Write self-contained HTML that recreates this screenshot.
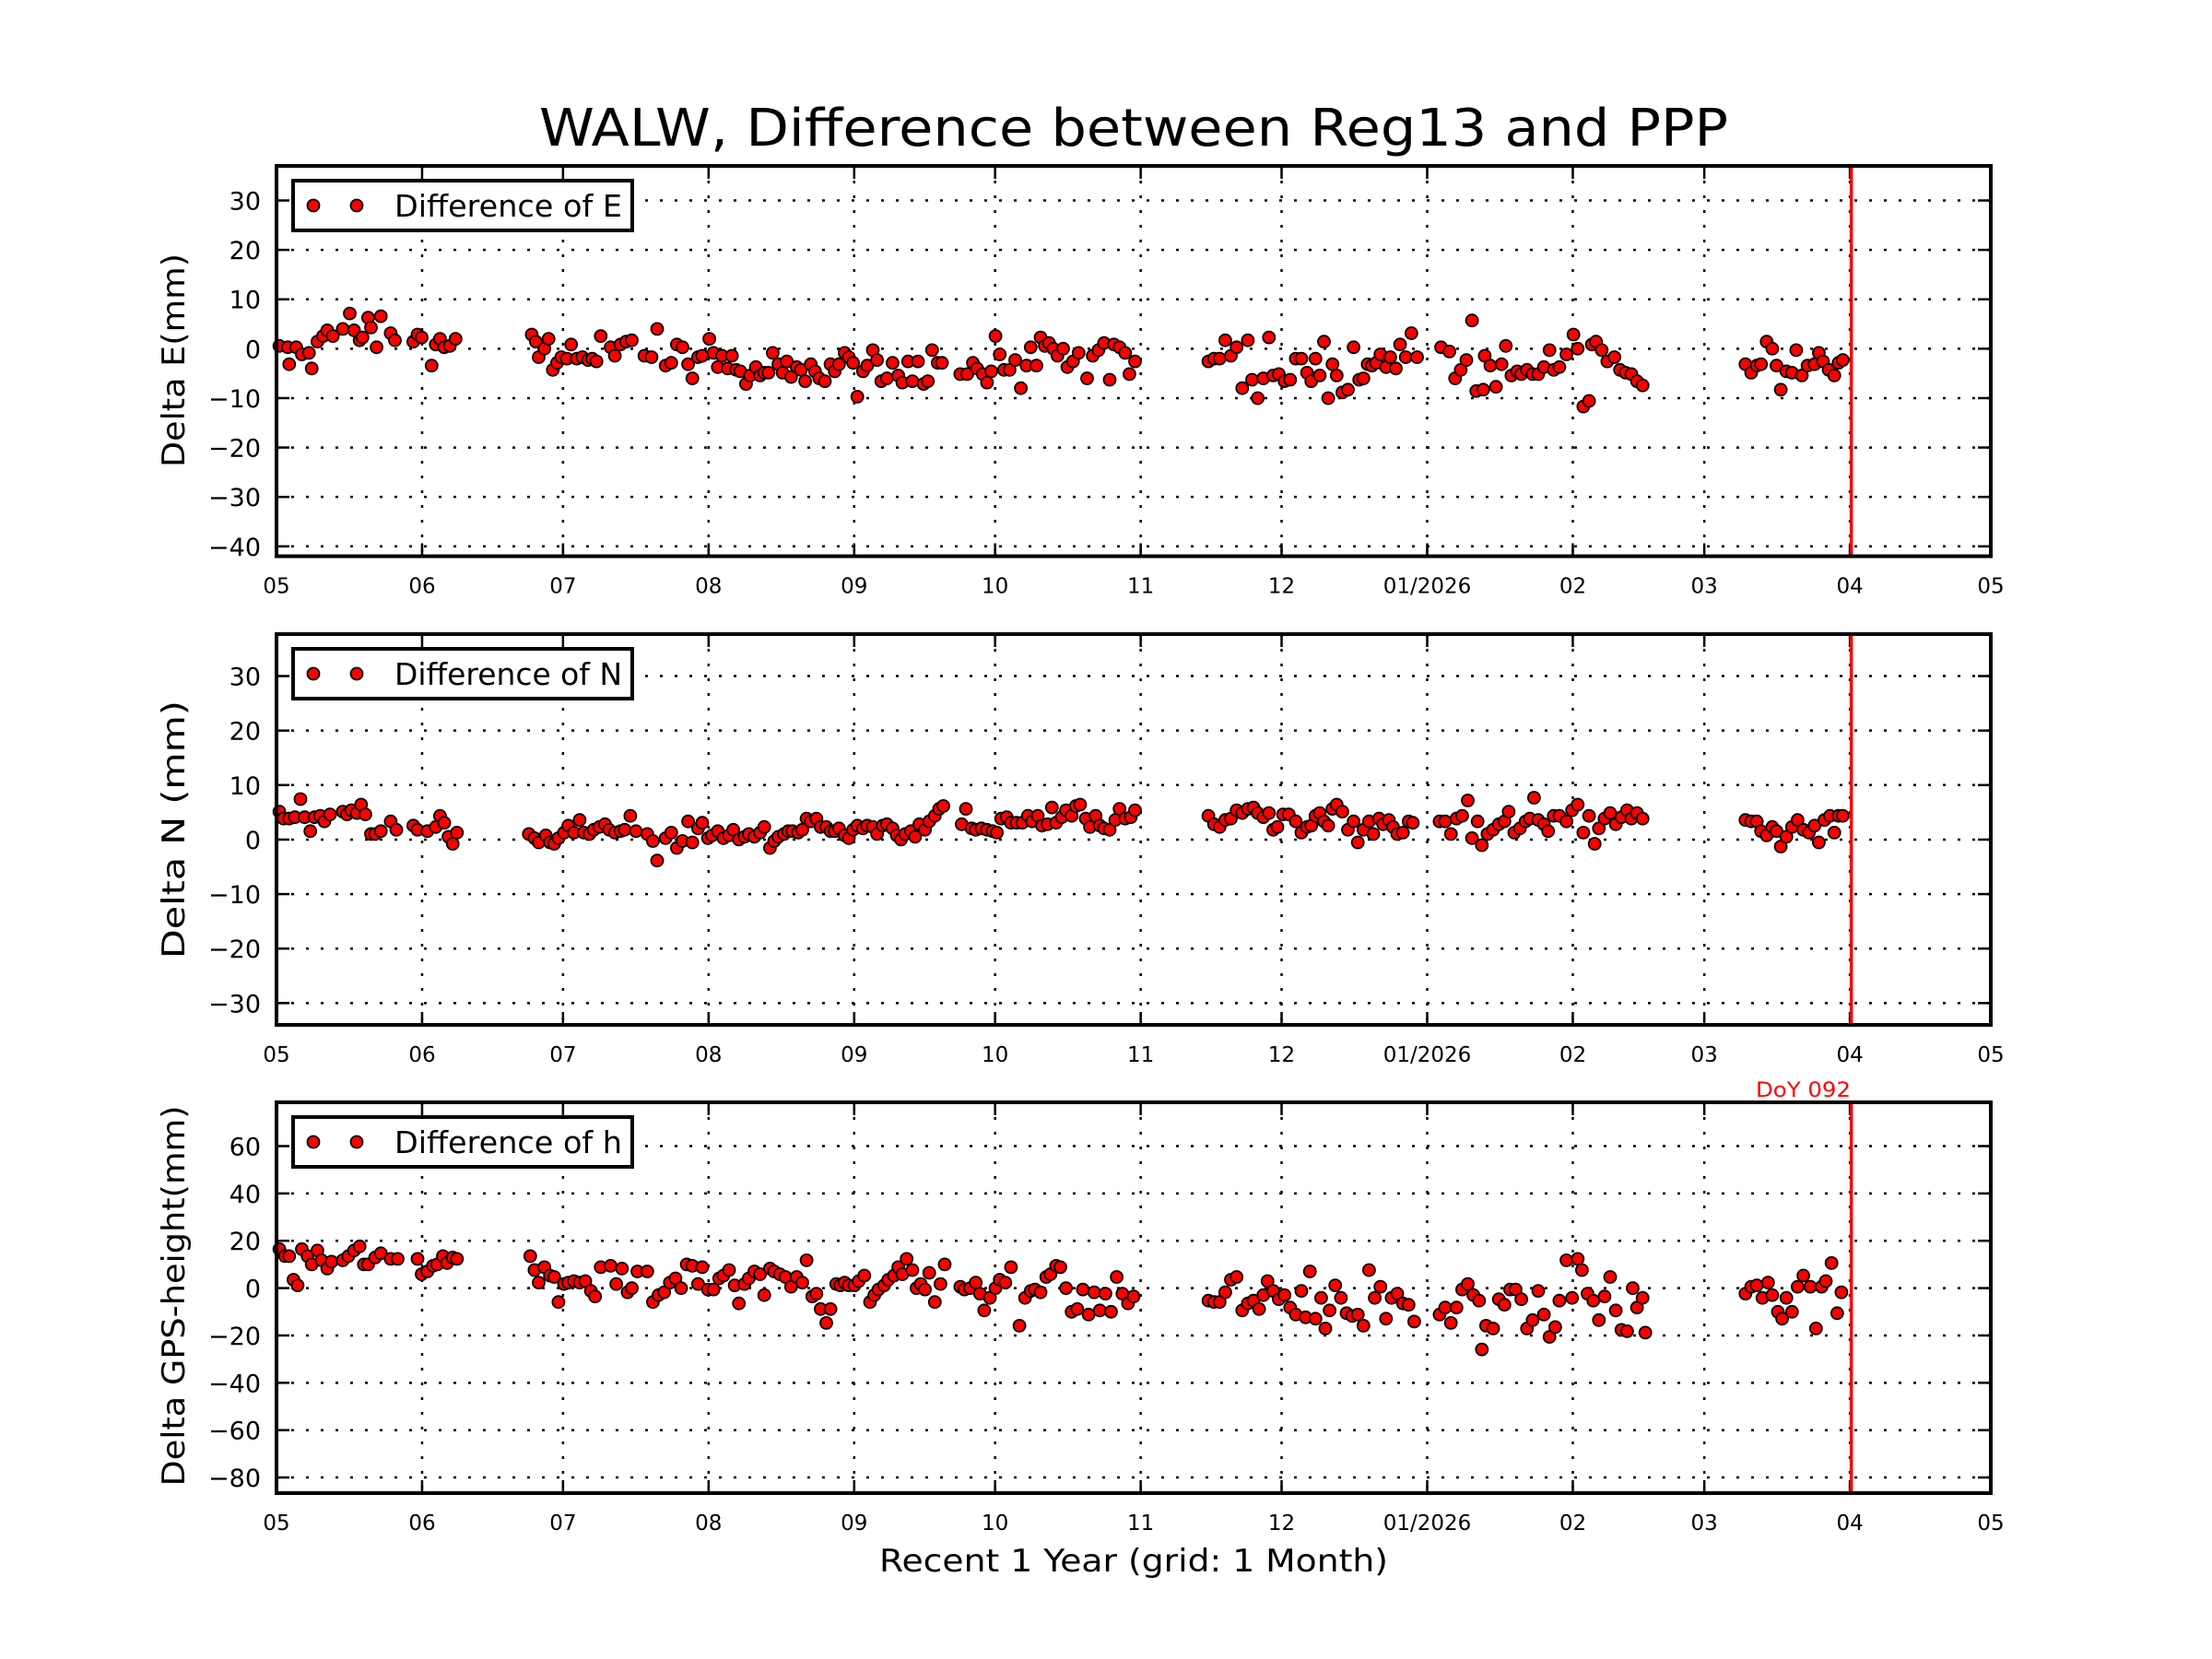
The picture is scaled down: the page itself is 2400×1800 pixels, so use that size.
<!DOCTYPE html>
<html><head><meta charset="utf-8"><style>
html,body{margin:0;padding:0;background:#fff;}
svg{display:block;font-family:"DejaVu Sans","Liberation Sans",sans-serif;}
</style></head><body>
<svg id="s" width="2400" height="1800" viewBox="0 0 2400 1800" xmlns="http://www.w3.org/2000/svg">
<rect width="2400" height="1800" fill="#fff"/>
<text x="1230" y="158" font-size="56" text-anchor="middle" textLength="1290" lengthAdjust="spacingAndGlyphs">WALW, Difference between Reg13 and PPP</text>
<text x="1230" y="1705" font-size="34" text-anchor="middle" textLength="552" lengthAdjust="spacingAndGlyphs">Recent 1 Year (grid: 1 Month)</text>
<text x="1905" y="1190" font-size="22" fill="#f00" textLength="103" lengthAdjust="spacingAndGlyphs">DoY 092</text>
<g id="g"></g>
</svg>
<script>
const NS="http://www.w3.org/2000/svg";
const g=document.getElementById('g');
function el(t,a,txt){const e=document.createElementNS(NS,t);for(const k in a)e.setAttribute(k,a[k]);if(txt!==undefined)e.textContent=txt;g.appendChild(e);return e;}
const L=300,R=2160;
const dayX=d=>L+d*(R-L)/365;
const months=[[0,"05"],[31,"06"],[61,"07"],[92,"08"],[123,"09"],[153,"10"],[184,"11"],[214,"12"],[245,"01/2026"],[276,"02"],[304,"03"],[335,"04"],[365,"05"]];
const panels=[
 {top:180,bot:603.5,ymin:-42,ymax:37,ticks:[-40,-30,-20,-10,0,10,20,30],lab:"Delta E(mm)",labLen:232,labC:391,leg:"Difference of E",
  conv:dy=>(247-dy)/3.5,
  d:"197,245;203,246;204,258;209,246;213,251;218,250;220,261;224,242;228,238;231,234;235,238;242,233;247,222;250,234;254,241;256,239;260,225;262,232;266,246;269,224;276,236;279,241;292,242;295,237;298,239;305,259;308,244;311,240;314,246;318,245;322,240;376,237;379,242;381,253;385,247;388,240;391,262;394,257;397,253;401,254;404,244;408,254;412,253;416,255;419,254;422,256;425,238;432,246;435,252;439,244;443,242;447,241;456,252;461,253;465,233;471,259;475,257;479,244;483,246;487,258;490,268;494,253;497,252;502,240;505,250;508,260;511,252;515,261;518,252;521,262;524,263;528,272;531,266;535,260;538,266;541,264;544,264;547,250;551,258;554,264;557,256;560,267;564,260;567,262;570,270;574,258;577,263;580,268;584,270;588,258;591,263;594,258;598,250;601,253;604,257;607,281;611,263;614,259;618,248;621,255;624,270;628,268;632,257;636,266;639,271;643,256;646,270;650,256;654,272;657,270;660,248;664,257;667,257;680,265;685,265;689,257;692,261;696,265;699,271;702,263;705,238;708,251;711,262;715,262;719,255;723,275;727,259;730,246;734,259;737,239;740,245;743,243;746,247;749,252;753,247;756,260;760,256;764,250;770,268;774,252;778,248;782,243;786,269;789,244;793,246;797,250;800,265;804,256;856,256;860,254;864,254;868,241;872,252;876,246;880,275;884,241;887,269;891,282;895,268;899,239;902,266;906,265;910,270;914,269;918,254;922,254;926,264;929,270;932,254;935,266;938,242;941,282;944,258;947,266;951,278;955,276;959,246;963,269;966,268;969,258;972,259;975,257;978,251;982,260;985,253;989,261;992,244;996,253;1000,236;1004,253;1021,246;1027,249;1031,268;1035,262;1039,255;1043,227;1046,277;1051,276;1052,252;1056,259;1060,274;1064,258;1067,245;1071,266;1075,263;1078,265;1082,262;1086,265;1090,265;1094,260;1098,248;1101,262;1105,260;1110,251;1115,237;1118,247;1122,288;1126,284;1128,244;1131,242;1135,248;1139,256;1144,253;1148,262;1152,264;1156,265;1160,270;1164,273;1237,258;1241,264;1245,259;1248,258;1252,242;1256,247;1259,259;1262,276;1266,263;1270,264;1273,248;1277,266;1281,259;1286,258;1289,250;1292,256;1296,262;1300,266;1303,257;1306,255"},
 {top:688,bot:1112,ymin:-34,ymax:37.7,ticks:[-30,-20,-10,0,10,20,30],lab:"Delta N (mm)",labLen:280,labC:900,leg:"Difference of N",
  conv:dy=>(595-dy)/3.9,
  d:"197,575;200,580;204,580;208,579;212,566;215,579;219,589;222,579;226,578;229,582;233,577;242,575;245,577;248,574;252,576;255,570;258,577;262,591;265,591;269,589;276,582;280,588;292,585;295,588;302,589;308,586;311,578;314,583;317,593;320,598;323,590;374,591;378,594;381,597;386,592;389,597;392,598;395,594;399,590;402,585;406,590;410,581;413,590;417,591;420,588;424,586;428,584;431,588;435,590;439,589;442,588;446,578;450,589;458,591;462,596;465,610;471,594;475,590;479,601;483,596;487,582;490,597;494,587;497,583;501,594;504,592;508,589;512,594;516,592;519,588;523,595;527,593;530,591;534,593;538,590;541,586;545,601;548,596;551,593;555,591;558,589;561,589;565,590;568,588;571,580;574,582;578,580;581,586;585,586;588,589;591,589;594,587;598,592;601,594;604,588;607,585;611,587;614,585;618,586;621,591;625,585;628,584;632,587;635,592;638,595;641,591;645,589;648,593;651,584;655,588;658,582;662,578;665,573;668,571;681,584;684,573;688,587;691,588;695,587;699,588;703,589;706,590;709,580;713,579;716,583;720,583;724,583;728,578;731,582;735,578;738,585;742,584;745,572;748,583;752,579;755,574;759,578;762,571;765,570;769,580;772,586;776,578;779,585;782,587;786,588;790,581;793,573;797,580;801,579;804,574;856,578;860,584;864,586;868,581;872,580;876,574;880,576;884,573;888,572;891,576;895,579;899,576;902,588;905,586;909,577;913,577;918,582;922,590;926,586;929,585;932,578;935,576;938,582;941,585;944,573;947,570;951,575;955,588;959,582;962,597;966,588;970,582;973,591;977,580;980,584;984,581;987,586;990,591;994,590;998,582;1001,583;1020,582;1024,582;1028,591;1032,580;1036,578;1040,567;1043,594;1047,582;1050,599;1054,591;1058,588;1062,584;1066,582;1069,575;1073,590;1077,587;1081,582;1084,580;1087,565;1090,581;1094,584;1097,589;1101,578;1105,578;1110,582;1114,574;1118,570;1122,590;1126,578;1130,598;1133,587;1137,580;1141,576;1145,584;1149,579;1153,574;1156,580;1160,576;1164,580;1237,581;1241,582;1245,582;1248,589;1252,592;1256,586;1259,589;1262,600;1266,593;1270,586;1274,581;1278,588;1282,590;1286,585;1289,597;1293,581;1297,578;1300,590;1303,578;1306,578"},
 {top:1196,bot:1620,ymin:-86.6,ymax:78.5,ticks:[-80,-60,-40,-20,0,20,40,60],lab:"Delta GPS-height(mm)",labLen:413,labC:1406,leg:"Difference of h",
  conv:dy=>(913-dy)/1.7,
  d:"197,885;201,890;204,890;207,907;210,911;213,885;217,890;220,896;224,886;227,893;231,899;234,894;242,893;246,890;250,886;254,883;257,896;260,896;265,891;269,888;276,892;281,892;295,892;298,903;302,901;306,897;309,896;313,890;316,895;320,891;323,892;375,890;378,900;381,909;385,898;389,904;392,905;395,923;399,910;402,909;406,908;410,909;414,908;418,915;421,919;425,898;432,897;436,910;440,899;444,916;447,913;451,901;458,901;462,923;466,918;470,916;474,909;478,906;482,913;486,896;490,897;494,910;497,898;501,914;505,914;509,906;512,904;516,900;520,911;523,924;527,910;530,906;534,901;538,903;541,918;545,899;548,901;552,903;556,905;560,912;564,905;568,909;571,893;575,919;578,917;581,928;585,938;588,928;592,910;595,911;598,909;601,911;605,911;608,908;612,904;616,923;619,918;622,914;626,911;629,907;633,904;636,898;639,903;642,892;646,900;649,913;652,910;655,914;658,902;662,923;666,910;669,896;680,912;683,914;687,913;691,909;694,917;697,929;701,920;705,913;708,907;712,909;716,898;722,940;726,920;730,915;733,914;737,916;741,905;744,903;748,897;751,898;755,913;759,930;763,928;767,914;771,932;775,916;779,929;783,917;787,930;791,905;795,917;799,924;803,919;856,922;860,923;864,923;868,916;872,907;876,905;880,929;884,924;888,922;892,928;895,918;898,908;902,915;906,921;910,918;914,927;918,932;922,915;925,934;928,901;932,935;936,920;939,942;942,929;946,911;950,920;954,931;958,933;962,932;966,940;970,900;974,920;978,912;982,935;986,920;990,917;994,924;998,925;1002,937;1020,932;1024,927;1028,938;1032,927;1036,914;1040,910;1044,918;1048,922;1050,957;1053,940;1058,942;1062,921;1066,925;1070,914;1074,914;1078,921;1082,942;1086,936;1090,915;1094,932;1098,948;1102,941;1105,922;1110,893;1114,920;1118,892;1121,900;1125,917;1129,922;1133,936;1137,919;1141,905;1145,929;1149,943;1153,944;1157,913;1160,927;1164,920;1166,945;1237,917;1241,912;1245,911;1249,920;1253,909;1256,918;1260,930;1263,935;1266,920;1270,930;1274,912;1278,904;1283,912;1287,942;1291,912;1294,908;1298,895;1302,931;1305,916"}
];
panels.forEach(p=>{
  const Y=v=>p.bot-(v-p.ymin)*(p.bot-p.top)/(p.ymax-p.ymin);
  months.forEach(m=>{const x=dayX(m[0]);
    el('line',{x1:x,x2:x,y1:p.top,y2:p.bot,stroke:'#000','stroke-width':2.5,'stroke-dasharray':'3,13'});
    el('line',{x1:x,x2:x,y1:p.bot,y2:p.bot-14,stroke:'#000','stroke-width':2.5});
    el('line',{x1:x,x2:x,y1:p.top,y2:p.top+14,stroke:'#000','stroke-width':2.5});
    el('text',{x:x,y:p.bot+40,'font-size':23,'text-anchor':'middle'},m[1]);
  });
  p.ticks.forEach(v=>{const y=Y(v);
    el('line',{x1:L,x2:R,y1:y,y2:y,stroke:'#000','stroke-width':2.5,'stroke-dasharray':'3,13'});
    el('line',{x1:L,x2:L+14,y1:y,y2:y,stroke:'#000','stroke-width':2.5});
    el('line',{x1:R,x2:R-14,y1:y,y2:y,stroke:'#000','stroke-width':2.5});
    el('text',{x:283,y:y+10,'font-size':27,'text-anchor':'end'},(v<0?'\u2212'+(-v):v));
  });
  const rx=dayX(335.3);
  el('line',{x1:rx,x2:rx,y1:p.top,y2:p.bot,stroke:'#f00','stroke-width':3.5});
  p.d.split(';').forEach(s=>{const a=s.split(',').map(Number);
    const x=L+(a[0]-195)*(R-L)/1216;const y=Y(p.conv(a[1]));
    el('circle',{cx:x.toFixed(1),cy:y.toFixed(1),r:6.5,fill:'#f00',stroke:'#000','stroke-width':1.8});
  });
  el('rect',{x:L,y:p.top,width:R-L,height:p.bot-p.top,fill:'none',stroke:'#000','stroke-width':4});
  const lt=p.top+16;
  el('rect',{x:318,y:lt,width:368,height:54,fill:'#fff',stroke:'#000','stroke-width':4});
  el('circle',{cx:340,cy:lt+27,r:6.5,fill:'#f00',stroke:'#000','stroke-width':1.8});
  el('circle',{cx:387,cy:lt+27,r:6.5,fill:'#f00',stroke:'#000','stroke-width':1.8});
  el('text',{x:428,y:lt+39,'font-size':33,textLength:247,lengthAdjust:'spacingAndGlyphs'},p.leg);
  el('text',{x:0,y:0,'font-size':34,'text-anchor':'middle',transform:`translate(200,${p.labC}) rotate(-90)`,textLength:p.labLen,lengthAdjust:'spacingAndGlyphs'},p.lab);
});
</script>
</body></html>
